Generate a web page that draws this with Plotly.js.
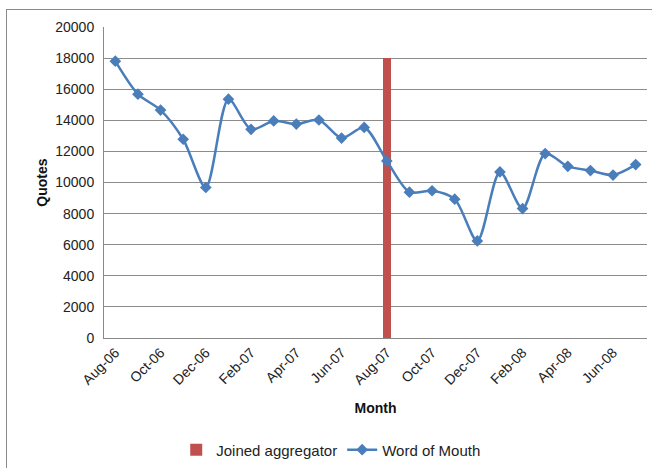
<!DOCTYPE html>
<html><head><meta charset="utf-8">
<script src="https://cdn.plot.ly/plotly-3.0.1.min.js"></script>
<style>
html,body{margin:0;padding:0;background:#fff;}
#wrap{position:relative;width:652px;height:468px;}
#chart{width:652px;height:468px;}
#frame{position:absolute;left:6px;top:9px;width:660px;height:470px;border:1px solid #8a8a8a;pointer-events:none;}
</style></head>
<body>
<div id="wrap"><div id="chart"></div><div id="frame"></div></div>
<script>
const months = ['Aug-06','Sep-06','Oct-06','Nov-06','Dec-06','Jan-07','Feb-07','Mar-07','Apr-07','May-07','Jun-07','Jul-07',
                'Aug-07','Sep-07','Oct-07','Nov-07','Dec-07','Jan-08','Feb-08','Mar-08','Apr-08','May-08','Jun-08','Jul-08'];
const wordOfMouth = [17800,15680,14660,12780,9680,15360,13420,13960,13760,14020,12860,13540,
                     11390,9380,9470,8930,6240,10680,8320,11860,11040,10770,10480,11150];
const aggregatorMonth = ['Aug-07'];
const aggregatorValue = [18000];
const tickLabels = ['Aug-06','Oct-06','Dec-06','Feb-07','Apr-07','Jun-07','Aug-07','Oct-07','Dec-07','Feb-08','Apr-08','Jun-08'];
const yTicks = [0,2000,4000,6000,8000,10000,12000,14000,16000,18000,20000];

const font = 'Liberation Sans, Arial, sans-serif';
const data = [
  {type:'bar', name:'Joined aggregator', x:aggregatorMonth, y:aggregatorValue, width:0.37,
   marker:{color:'#C0504D'}},
  {type:'scatter', mode:'lines+markers', name:'Word of Mouth', x:months, y:wordOfMouth,
   line:{color:'#4A7EBB', width:2.5, shape:'spline', smoothing:0.8},
   marker:{symbol:'diamond', size:9, color:'#4A7EBB'}}
];
const layout = {
  width:652, height:468,
  margin:{l:104, r:5, t:27, b:130, autoexpand:false},
  paper_bgcolor:'#fff', plot_bgcolor:'#fff',
  font:{family:font, size:14, color:'#222'},
  showlegend:true,
  legend:{orientation:'h', x:0.133, xanchor:'left', y:-0.36, yanchor:'middle', font:{size:15, color:'#222'}, traceorder:'normal'},
  xaxis:{type:'category', categoryorder:'array', categoryarray:months,
    tickmode:'array', tickvals:tickLabels, ticktext:tickLabels, tickangle:-45,
    tickfont:{size:14},
    showgrid:false, showline:true, linecolor:'#898989', linewidth:1, ticks:'',
    range:[-0.5, months.length-0.5], automargin:false,
    title:{text:'<b>Month</b>', font:{size:14, color:'#111'}, standoff:16}},
  yaxis:{range:[0,20000], tickmode:'array', tickvals:yTicks, ticktext:yTicks.map(String),
    tickfont:{size:14},
    showgrid:true, gridcolor:'#8c8c8c', gridwidth:1, showline:true, linecolor:'#898989', linewidth:1,
    zeroline:false, ticks:'', automargin:false, ticklabelstandoff:6,
    title:{text:'<b>Quotes</b>', font:{size:14, color:'#111'}, standoff:4}},
  bargap:0
};
Plotly.newPlot('chart', data, layout, {displayModeBar:false, staticPlot:true});
</script>
</body></html>
